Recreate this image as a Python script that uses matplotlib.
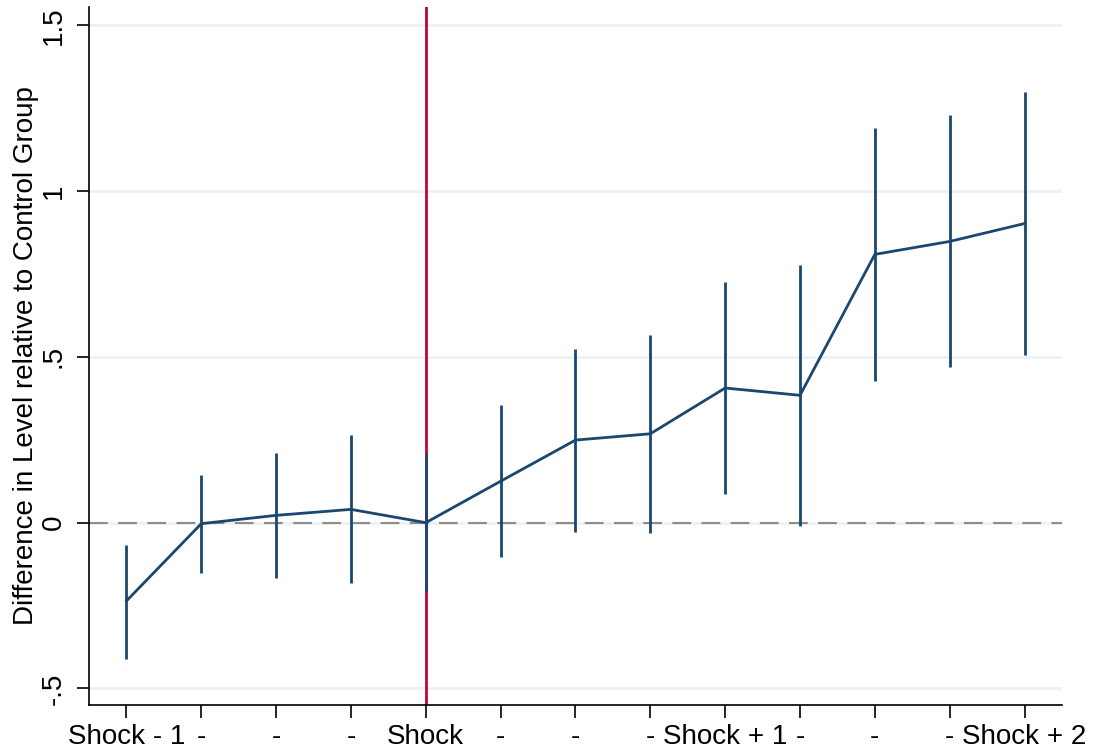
import numpy as np
import matplotlib
matplotlib.use('Agg')
import matplotlib.pyplot as plt

plt.rcParams['font.family'] = ['Liberation Sans', 'DejaVu Sans']

# estimates and confidence bounds per period
periods = np.arange(13)
tick_labels = ['Shock - 1', '-', '-', '-', 'Shock', '-', '-', '-',
               'Shock + 1', '-', '-', '-', 'Shock + 2']
coef = [-0.236, -0.003, 0.022, 0.040, 0.0, 0.125, 0.249, 0.268,
        0.406, 0.384, 0.809, 0.848, 0.902]
ci_low = [-0.411, -0.153, -0.168, -0.181, -0.206, -0.105, -0.028, -0.031,
          0.086, -0.011, 0.427, 0.468, 0.507]
ci_high = [-0.066, 0.145, 0.211, 0.263, 0.209, 0.354, 0.525, 0.566,
           0.726, 0.778, 1.191, 1.228, 1.300]
shock_period = 4

navy = '#1a476f'

fig = plt.figure(figsize=(10.94, 7.53), dpi=100)
ax = fig.add_axes([0.0814, 0.0637, 0.8893, 0.927])

yt = [-0.5, 0, 0.5, 1, 1.5]
for v in yt:
    ax.axhline(v, color='#eaf2f3', lw=2, zorder=0)
ax.axhline(0, color='#8c8c8c', lw=1.5, ls=(0, (9, 5)), zorder=1)
ax.axvline(shock_period, color='#c10534', lw=2, zorder=2)

ax.vlines(periods, ci_low, ci_high, color=navy, lw=2, zorder=3)
ax.plot(periods, coef, color=navy, lw=2, zorder=4)

ax.set_xlim(-0.5, 12.5)
ax.set_ylim(-0.55, 1.555)
ax.set_xticks(periods)
ax.set_xticklabels(tick_labels)
ax.set_yticks(yt)
ax.set_yticklabels(['-.5', '0', '.5', '1', '1.5'], rotation=90, va='center')
ax.tick_params(axis='both', labelsize=20, length=9, width=1.2, color='black')
ax.tick_params(axis='y', pad=7)
ax.tick_params(axis='x', pad=5)
ax.set_ylabel('Difference in Level relative to Control Group', fontsize=20,
              labelpad=1)

for s in ['top', 'right']:
    ax.spines[s].set_visible(False)
for s in ['left', 'bottom']:
    ax.spines[s].set_linewidth(1.2)

fig.savefig('out.png', dpi=100)
